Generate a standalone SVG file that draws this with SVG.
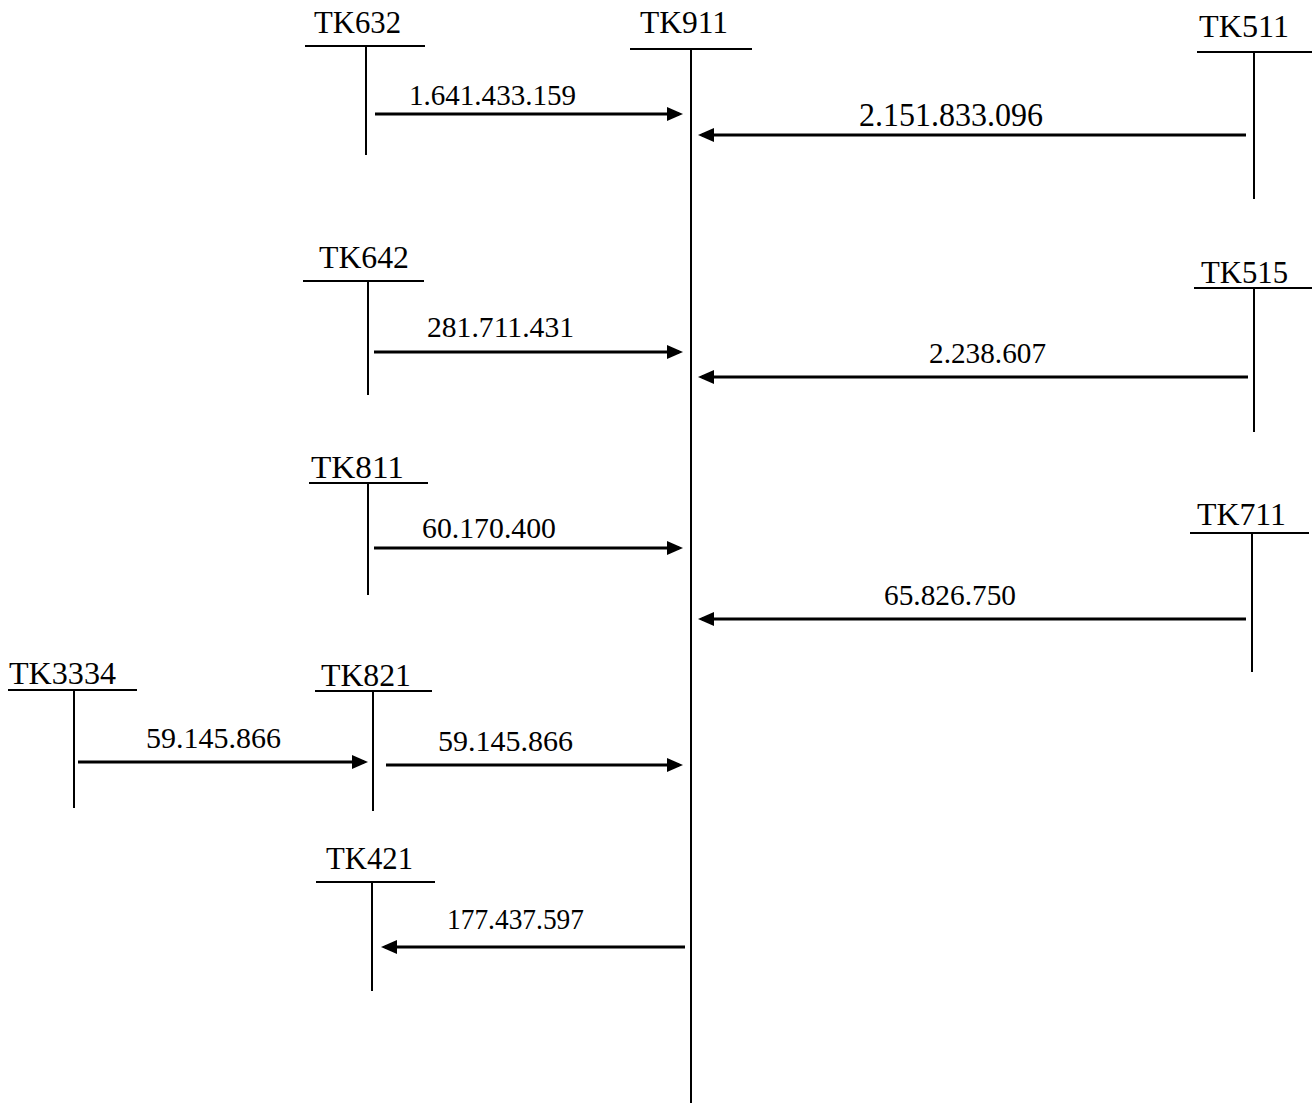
<svg xmlns="http://www.w3.org/2000/svg" width="1316" height="1103" viewBox="0 0 1316 1103">
<style>
text{font-family:"Liberation Serif","Times New Roman",serif;fill:#000}
.n{font-size:32px}
.v{font-size:30px}
.h{stroke:#000;stroke-width:2;fill:none}
.a{stroke:#000;stroke-width:3;fill:none;marker-end:url(#ah)}
</style>
<defs>
<marker id="ah" markerUnits="userSpaceOnUse" markerWidth="17" markerHeight="15" refX="12" refY="7" orient="auto">
<path d="M0,0 L16,7 L0,14 z" fill="#000"/>
</marker>
</defs>
<rect width="1316" height="1103" fill="#fff"/>
<g id="TK911"><text class="n" x="640" y="33" textLength="88" lengthAdjust="spacingAndGlyphs">TK911</text><path class="h" d="M630,49 H752 M691,49 V1103"/></g>
<g id="TK632"><text class="n" x="314" y="33" textLength="87" lengthAdjust="spacingAndGlyphs">TK632</text><path class="h" d="M305,46 H425 M366,46 V155"/></g>
<g id="TK511"><text class="n" x="1199" y="37" textLength="90" lengthAdjust="spacingAndGlyphs">TK511</text><path class="h" d="M1197,52 H1312 M1254,52 V199"/></g>
<g id="TK642"><text class="n" x="319" y="268" textLength="90" lengthAdjust="spacingAndGlyphs">TK642</text><path class="h" d="M303,281 H424 M368,281 V395"/></g>
<g id="TK515"><text class="n" x="1201" y="283" textLength="87" lengthAdjust="spacingAndGlyphs">TK515</text><path class="h" d="M1194,288 H1312 M1254,288 V432"/></g>
<g id="TK811"><text class="n" x="311" y="478" textLength="93" lengthAdjust="spacingAndGlyphs">TK811</text><path class="h" d="M309,483 H428 M368,483 V595"/></g>
<g id="TK711"><text class="n" x="1197" y="525" textLength="89" lengthAdjust="spacingAndGlyphs">TK711</text><path class="h" d="M1190,533 H1309 M1252,533 V672"/></g>
<g id="TK3334"><text class="n" x="9" y="684" textLength="107" lengthAdjust="spacingAndGlyphs">TK3334</text><path class="h" d="M8,690 H137 M74,690 V808"/></g>
<g id="TK821"><text class="n" x="321" y="686" textLength="90" lengthAdjust="spacingAndGlyphs">TK821</text><path class="h" d="M315,691 H432 M373,691 V811"/></g>
<g id="TK421"><text class="n" x="326" y="869" textLength="87" lengthAdjust="spacingAndGlyphs">TK421</text><path class="h" d="M316,882 H435 M372,882 V991"/></g>
<g id="connectors">
<line class="a" x1="375" y1="114" x2="679" y2="114"/>
<text class="v" x="409" y="105" textLength="167" lengthAdjust="spacingAndGlyphs">1.641.433.159</text>
<line class="a" x1="1246" y1="135" x2="702" y2="135"/>
<text x="859" y="126" style="font-size:34px" textLength="184" lengthAdjust="spacingAndGlyphs">2.151.833.096</text>
<line class="a" x1="374" y1="352" x2="679" y2="352"/>
<text class="v" x="427" y="337" textLength="147" lengthAdjust="spacingAndGlyphs">281.711.431</text>
<line class="a" x1="1248" y1="377" x2="702" y2="377"/>
<text class="v" x="929" y="363" textLength="117" lengthAdjust="spacingAndGlyphs">2.238.607</text>
<line class="a" x1="374" y1="548" x2="679" y2="548"/>
<text class="v" x="422" y="538" textLength="134" lengthAdjust="spacingAndGlyphs">60.170.400</text>
<line class="a" x1="1246" y1="619" x2="702" y2="619"/>
<text class="v" x="884" y="605" textLength="132" lengthAdjust="spacingAndGlyphs">65.826.750</text>
<line class="a" x1="78" y1="762" x2="364" y2="762"/>
<text class="v" x="146" y="748" textLength="135" lengthAdjust="spacingAndGlyphs">59.145.866</text>
<line class="a" x1="386" y1="765" x2="679" y2="765"/>
<text class="v" x="438" y="751" textLength="135" lengthAdjust="spacingAndGlyphs">59.145.866</text>
<line class="a" x1="685" y1="947" x2="385" y2="947"/>
<text class="v" x="447" y="929" textLength="137" lengthAdjust="spacingAndGlyphs">177.437.597</text>
</g>
</svg>
